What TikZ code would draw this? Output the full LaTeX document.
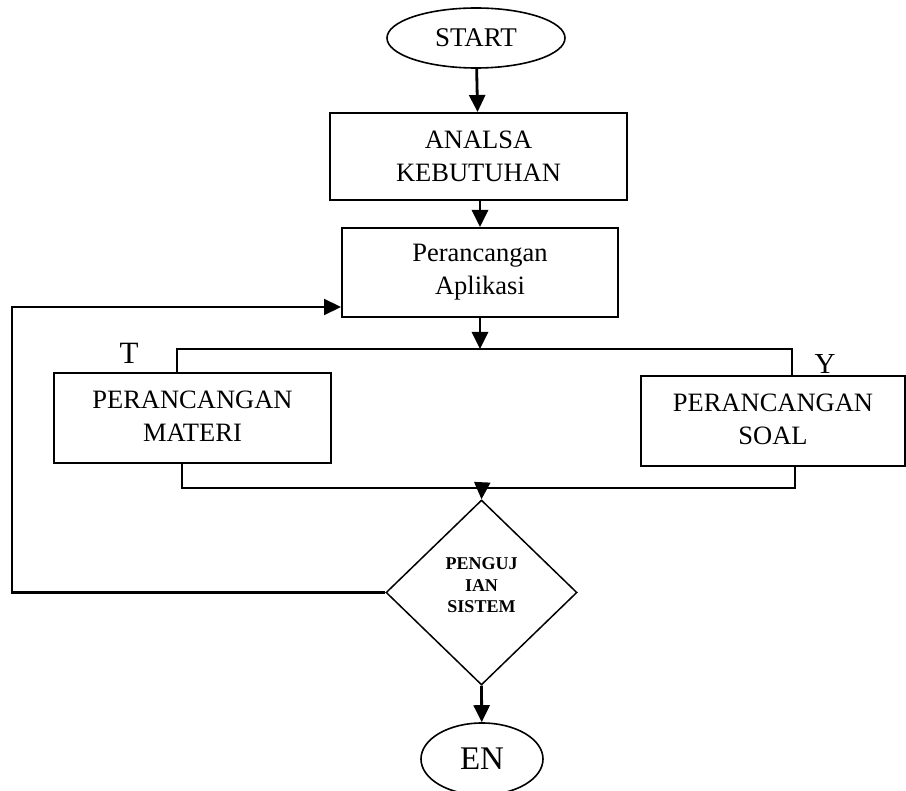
\documentclass[tikz,border=0pt]{standalone}
\usepackage{fontspec}
\setmainfont{Liberation Serif}
\usetikzlibrary{shapes.geometric,arrows.meta}

\begin{document}
\begin{tikzpicture}[x=1pt,y=-1pt,
  kotak/.style={draw,line width=2pt,align=center,inner sep=0pt,font=\fontsize{26.5}{33}\selectfont},
  oval/.style={draw,ellipse,line width=1.6pt,inner sep=0pt},
  panah/.style={line width=2.8pt,-{Triangle[length=17pt,width=16pt]}},
  garis/.style={line width=2pt}]
\useasboundingbox (0,0) rectangle (906,791);
\node[oval,minimum width=178pt,minimum height=60pt,font=\fontsize{27}{30}\selectfont] (start) at (476,38) {START};
\node[kotak,minimum width=297pt,minimum height=87pt] (analsa) at (478.5,156.5) {ANALSA\\KEBUTUHAN};
\node[kotak,minimum width=276pt,minimum height=89pt] (aplikasi) at (480,272.5) {Perancangan\\Aplikasi};
\node[kotak,minimum width=277pt,minimum height=90pt,text depth=4pt] (materi) at (192.5,418) {PERANCANGAN\\MATERI};
\node[kotak,minimum width=264pt,minimum height=90pt,text depth=4pt] (soal) at (773,421) {PERANCANGAN\\SOAL};
\node[draw,diamond,line width=1.5pt,inner sep=0pt,minimum width=191pt,minimum height=185pt,
  align=center,font=\fontsize{18}{21.5}\selectfont\bfseries,text depth=14pt] (uji) at (481.5,592.5) {PENGUJ\\IAN\\SISTEM};
\node[oval,minimum width=122pt,minimum height=72pt,font=\fontsize{33}{36}\selectfont] (end) at (482,759) {EN};
\node[font=\fontsize{31}{34}\selectfont] (t) at (129,353.5) {T};
\node[font=\fontsize{29}{32}\selectfont] (y) at (825,364.5) {Y};

% titik bantu
\coordinate (cab) at (480,349);
\coordinate (kiri) at (177,349);
\coordinate (kanan) at (792,349);
\coordinate (gabung) at (482,488);
\coordinate (kiri2) at (182,488);
\coordinate (kanan2) at (795,488);
\coordinate (balik) at (12,307);

\draw[panah] (start) -- (analsa);
\draw[panah] (analsa.south -| 480,0) -- (aplikasi.north -| 480,0);
\draw[panah] (aplikasi.south) -- (cab);
\draw[garis] (kiri |- materi.north) -- (kiri) -- (kanan) -- (kanan |- soal.north);
\draw[garis] (kiri2 |- materi.south) -- (kiri2) -- (kanan2) -- (kanan2 |- soal.south);
\draw[panah,line width=2pt] (gabung) -- (uji.north);
\draw[panah,line width=2.2pt] (uji.west) -| (balik) -- (balik -| aplikasi.west);
\draw[panah] (uji.south) -- (end);
\end{tikzpicture}
\end{document}
